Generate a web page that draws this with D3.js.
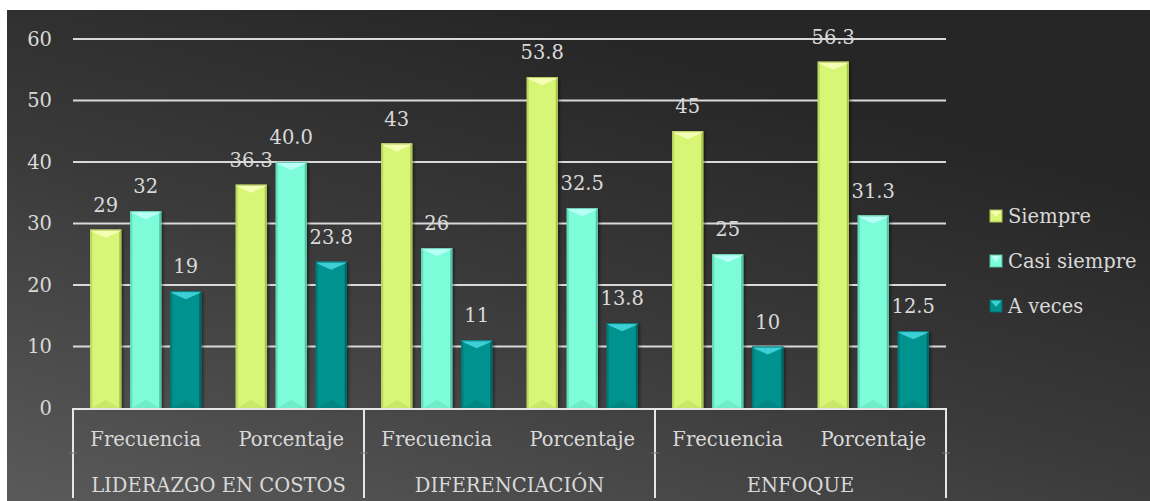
<!DOCTYPE html>
<html>
<head>
<meta charset="utf-8">
<script src="https://cdn.jsdelivr.net/npm/d3@7"></script>
<style>
  html, body { margin: 0; padding: 0; background: #ffffff; }
  svg { display: block; }
</style>
</head>
<body>
<svg id="chart" width="1150" height="501"></svg>
<script>
// Strategy groups and the two measures shown under each
const groups = ["LIDERAZGO EN COSTOS", "DIFERENCIACIÓN", "ENFOQUE"];
const measures = ["Frecuencia", "Porcentaje"];
const seriesNames = ["Siempre", "Casi siempre", "A veces"];

// Values per series, ordered group by group: Frecuencia, Porcentaje
const siempre     = [29, 36.3, 43, 53.8, 45, 56.3];
const casiSiempre = [32, 40.0, 26, 32.5, 25, 31.3];
const aVeces      = [19, 23.8, 11, 13.8, 10, 12.5];
// Text printed above each bar
const siempreLabels     = ["29", "36.3", "43", "53.8", "45", "56.3"];
const casiSiempreLabels = ["32", "40.0", "26", "32.5", "25", "31.3"];
const aVecesLabels      = ["19", "23.8", "11", "13.8", "10", "12.5"];

const yTicks = [0, 10, 20, 30, 40, 50, 60];

const palette = {
  "Siempre":      { base: "#d8f676", light: "#f4ffb4", dark: "#bcd85e", edge: "#a9c24e" },
  "Casi siempre": { base: "#7cfcd8", light: "#b8fff6", dark: "#63dcbb", edge: "#55c2a4" },
  "A veces":      { base: "#00928f", light: "#3ccfd6", dark: "#007a78", edge: "#006664" }
};

const svg = d3.select("#chart");
const font = "'DejaVu Serif', 'Liberation Serif', serif";
const fontSize = 19.5;
const textColor = "#d9d9d9";

// Dark background panel with a soft lighter corner at bottom-left
const defs = svg.append("defs");
const bg = defs.append("linearGradient").attr("id", "bgGrad")
  .attr("x1", "0").attr("y1", "1").attr("x2", "0.6").attr("y2", "0.1");
bg.append("stop").attr("offset", "0").attr("stop-color", "#5a5a5a");
bg.append("stop").attr("offset", "0.55").attr("stop-color", "#3a3a3a");
bg.append("stop").attr("offset", "1").attr("stop-color", "#262626");
svg.append("rect").attr("x", 7).attr("y", 10).attr("width", 1143).attr("height", 491)
  .attr("fill", "url(#bgGrad)");

const shadow = defs.append("filter").attr("id", "barShadow")
  .attr("x", "-30%").attr("y", "-10%").attr("width", "160%").attr("height", "130%");
shadow.append("feDropShadow").attr("dx", 2).attr("dy", 1).attr("stdDeviation", 1.5)
  .attr("flood-color", "#000").attr("flood-opacity", 0.45);

const plot = { left: 73, right: 946, top: 39, bottom: 408 };

const y = d3.scaleLinear().domain([0, 60]).range([plot.bottom, plot.top]);

const cells = [];
groups.forEach(g => measures.forEach(m => cells.push(g + "|" + m)));

const x0 = d3.scaleBand().domain(cells).range([plot.left, plot.right]).padding(0);
const x1 = d3.scaleBand().domain(seriesNames).range([0, x0.bandwidth()])
  .paddingInner(0.225).paddingOuter(0.431);

const xg = d3.scaleBand().domain(groups).range([plot.left, plot.right]).padding(0);

// Horizontal gridlines
svg.append("g").selectAll("line").data(yTicks.filter(t => t > 0)).join("line")
  .attr("x1", plot.left).attr("x2", plot.right)
  .attr("y1", d => y(d)).attr("y2", d => y(d))
  .attr("stroke", "#d9d9d9").attr("stroke-width", 2);

// Value axis labels
const yAxis = d3.axisLeft(y).tickValues(yTicks).tickSize(0).tickPadding(0);
const yG = svg.append("g").attr("transform", `translate(${plot.left - 21},0)`).call(yAxis);
yG.select(".domain").remove();
yG.selectAll("text").attr("fill", textColor).attr("font-family", font)
  .attr("font-size", fontSize).attr("dy", "0.32em");

// Bars
const series = [
  { name: "Siempre", values: siempre, labels: siempreLabels },
  { name: "Casi siempre", values: casiSiempre, labels: casiSiempreLabels },
  { name: "A veces", values: aVeces, labels: aVecesLabels }
];

const barData = [];
series.forEach(s => s.values.forEach((v, i) => barData.push({
  series: s.name, cell: cells[i], value: v, label: s.labels[i]
})));

const bars = svg.append("g").selectAll("g").data(barData).join("g")
  .attr("transform", d => `translate(${x0(d.cell) + x1(d.series)},0)`);

const bw = x1.bandwidth();
const bevel = 8;

bars.append("rect")
  .attr("x", 0).attr("y", d => y(d.value))
  .attr("width", bw).attr("height", d => y(0) - y(d.value))
  .attr("fill", d => palette[d.series].base)
  .attr("filter", "url(#barShadow)");

// side edges
bars.append("rect")
  .attr("x", 0).attr("y", d => y(d.value))
  .attr("width", 2).attr("height", d => y(0) - y(d.value))
  .attr("fill", d => palette[d.series].dark);
bars.append("rect")
  .attr("x", bw - 2).attr("y", d => y(d.value))
  .attr("width", 2).attr("height", d => y(0) - y(d.value))
  .attr("fill", d => palette[d.series].edge);

// top bevel highlight
bars.append("path")
  .attr("d", d => {
    const t = y(d.value);
    return `M0,${t} L${bw},${t} L${bw - 2},${t + 2} L${bw / 2},${t + bevel} L2,${t + 2} Z`;
  })
  .attr("fill", d => palette[d.series].light);
bars.append("line")
  .attr("x1", 0).attr("x2", bw)
  .attr("y1", d => y(d.value) + 0.5).attr("y2", d => y(d.value) + 0.5)
  .attr("stroke", d => palette[d.series].edge).attr("stroke-width", 1).attr("opacity", 0.8);

// bottom bevel
bars.append("path")
  .attr("d", d => {
    const b = y(0);
    return `M2,${b} L${bw - 2},${b} L${bw / 2},${b - bevel} Z`;
  })
  .attr("fill", d => palette[d.series].dark).attr("opacity", 0.5);

// Value labels
bars.append("text")
  .attr("x", bw / 2).attr("y", d => y(d.value) - 18)
  .attr("text-anchor", "middle")
  .attr("fill", textColor).attr("font-family", font).attr("font-size", fontSize)
  .text(d => d.label);

// Category axis: baseline and group separators
svg.append("line")
  .attr("x1", plot.left - 1).attr("x2", plot.right + 1)
  .attr("y1", plot.bottom + 1).attr("y2", plot.bottom + 1)
  .attr("stroke", "#e6e6e6").attr("stroke-width", 2);

const sepX = groups.map(g => xg(g)).concat([plot.right]);
svg.append("g").selectAll("line").data(sepX).join("line")
  .attr("x1", d => d).attr("x2", d => d)
  .attr("y1", plot.bottom).attr("y2", 498)
  .attr("stroke", "#e6e6e6").attr("stroke-width", 2);

// faint row divider marks
svg.append("g").selectAll("line").data(sepX).join("line")
  .attr("x1", d => d - 4).attr("x2", d => d + 4)
  .attr("y1", 453).attr("y2", 453)
  .attr("stroke", "#777").attr("stroke-width", 1);

// Measure labels
svg.append("g").selectAll("text").data(cells).join("text")
  .attr("x", d => x0(d) + x0.bandwidth() / 2).attr("y", 446)
  .attr("text-anchor", "middle")
  .attr("fill", textColor).attr("font-family", font).attr("font-size", fontSize)
  .text(d => d.split("|")[1]);

// Group labels
svg.append("g").selectAll("text").data(groups).join("text")
  .attr("x", d => xg(d) + xg.bandwidth() / 2).attr("y", 492)
  .attr("text-anchor", "middle")
  .attr("fill", textColor).attr("font-family", font).attr("font-size", fontSize)
  .text(d => d);

// Legend
const legend = svg.append("g").selectAll("g").data(seriesNames).join("g")
  .attr("transform", (d, i) => `translate(990,${216 + i * 45})`);
legend.append("rect").attr("x", 0).attr("y", -6).attr("width", 12).attr("height", 12)
  .attr("fill", d => palette[d].base);
legend.append("path").attr("d", "M0,-6 L12,-6 L6,1 Z").attr("fill", d => palette[d].light);
legend.append("rect").attr("x", 0).attr("y", -6).attr("width", 12).attr("height", 12)
  .attr("fill", "none").attr("stroke", d => palette[d].edge).attr("stroke-width", 1);
legend.append("text").attr("x", 18).attr("y", 0).attr("dy", "0.35em")
  .attr("fill", textColor).attr("font-family", font).attr("font-size", fontSize)
  .text(d => d);
</script>
</body>
</html>
